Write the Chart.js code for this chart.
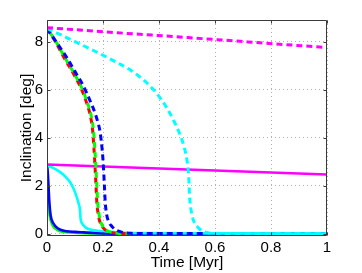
<!DOCTYPE html>
<html>
<head>
<meta charset="utf-8">
<script src="https://cdn.jsdelivr.net/npm/chart.js@4/dist/chart.umd.min.js"></script>
<style>
html,body{margin:0;padding:0;background:#fff;}
#wrap{width:362px;height:273px;position:relative;}
</style>
</head>
<body>
<div id="wrap"><canvas id="c" width="362" height="273"></canvas></div>
<script>
// ---- data (Time [Myr], Inclination [deg]) ----
const xTicks = [0, 0.2, 0.4, 0.6, 0.8, 1];
const yTicks = [0, 2, 4, 6, 8];

const magDashX = [0, 0.25, 0.5, 0.75, 1];
const magDashY = [8.58, 8.37, 8.17, 7.96, 7.75];

const magSolidX = [0, 1];
const magSolidY = [2.88, 2.46];

const cyanDashX = [0, 0.05, 0.1, 0.15, 0.2, 0.25, 0.3, 0.35, 0.38, 0.4, 0.43, 0.455, 0.475, 0.49, 0.5, 0.506, 0.509, 0.513, 0.518, 0.528, 0.54, 0.552, 0.57, 0.6, 1];
const cyanDashY = [8.55, 8.28, 8.0, 7.72, 7.43, 7.13, 6.8, 6.35, 6.0, 5.72, 5.2, 4.65, 4.12, 3.6, 3.05, 2.4, 1.6, 1.1, 0.75, 0.42, 0.25, 0.13, 0.05, 0.01, 0];

const redDashX = [0, 0.03, 0.06, 0.09, 0.12, 0.14, 0.155, 0.163, 0.168, 0.171, 0.175, 0.178, 0.183, 0.19, 0.2, 0.215, 0.24, 0.27, 0.3];
const redDashY = [8.55, 8.0, 7.35, 6.75, 6.1, 5.5, 4.9, 4.3, 3.5, 2.9, 2.0, 1.3, 0.8, 0.45, 0.25, 0.1, 0.03, 0, 0];

const greenDashX = [0, 0.032, 0.063, 0.093, 0.123, 0.143, 0.158, 0.166, 0.171, 0.174, 0.178, 0.181, 0.186, 0.193, 0.203, 0.218, 0.243, 0.273, 0.3];
const greenDashY = [8.55, 8.0, 7.35, 6.75, 6.1, 5.5, 4.9, 4.3, 3.5, 2.9, 2.0, 1.3, 0.8, 0.45, 0.25, 0.1, 0.03, 0, 0];

const blueDashX = [0, 0.035, 0.07, 0.1, 0.13, 0.155, 0.175, 0.19, 0.197, 0.201, 0.205, 0.208, 0.213, 0.22, 0.232, 0.25, 0.27, 0.3, 0.35, 0.56];
const blueDashY = [8.55, 7.95, 7.35, 6.75, 6.15, 5.5, 4.9, 4.2, 3.5, 2.9, 2.0, 1.3, 0.8, 0.5, 0.3, 0.13, 0.05, 0.01, 0, 0];

const cyanSolidX = [0, 0.02, 0.046, 0.065, 0.082, 0.095, 0.106, 0.113, 0.118, 0.12, 0.124, 0.13, 0.14, 0.154, 0.18, 0.213, 0.26, 0.32, 1];
const cyanSolidY = [2.85, 2.75, 2.57, 2.38, 2.15, 1.87, 1.53, 1.25, 0.97, 0.62, 0.45, 0.35, 0.24, 0.17, 0.12, 0.09, 0.05, 0.02, 0.0];

const blueSolidX = [0, 0.003, 0.005, 0.008, 0.013, 0.023, 0.04, 0.07, 0.1, 0.13, 0.18, 0.25, 1];
const blueSolidY = [2.85, 2.5, 2.08, 1.39, 0.76, 0.42, 0.21, 0.1, 0.07, 0.05, 0.02, 0.0, 0];

const greenSolidX = [0, 0.002, 0.004, 0.007, 0.012, 0.022, 0.04, 0.08, 0.15, 0.3];
const greenSolidY = [2.85, 2.3, 1.6, 1.0, 0.6, 0.3, 0.13, 0.05, 0.01, 0];

function pts(xs, ys) { return xs.map((x, i) => ({x: x, y: ys[i]})); }

const DASH = [6, 4];
function ds(xs, ys, color, dashed, order, dashOffset) {
  return {
    data: pts(xs, ys),
    borderColor: color,
    backgroundColor: color,
    borderWidth: dashed ? 3 : 2.6,
    borderDash: dashed ? DASH : [],
    borderDashOffset: dashOffset || 0,
    pointRadius: 0,
    cubicInterpolationMode: 'monotone',
    fill: false,
    order: order,
    borderCapStyle: 'butt',
    borderJoinStyle: 'round'
  };
}

const datasets = [
  ds(magDashX, magDashY, '#ff00ff', true, 1),
  ds(cyanDashX, cyanDashY, '#00ffff', true, 2),
  ds(blueDashX, blueDashY, '#0000ff', true, 3),
  ds(greenDashX, greenDashY, '#00ff00', true, 4, 5),
  ds(redDashX, redDashY, '#ff0000', true, 5),
  ds(magSolidX, magSolidY, '#ff00ff', false, 6),
  ds(cyanSolidX, cyanSolidY, '#00ffff', false, 7),
  ds(blueSolidX, blueSolidY, '#0000ff', false, 8),
  ds(greenSolidX, greenSolidY, '#00ff00', false, 9)
];

const FONT = "'Liberation Sans', Arial, Helvetica, sans-serif";

const boxPlugin = {
  id: 'box',
  afterDraw(chart) {
    const {ctx, chartArea: a, scales} = chart;
    ctx.save();
    ctx.strokeStyle = '#3a3a3a';
    ctx.lineWidth = 1;
    const L = Math.round(a.left) + 0.5, R = Math.round(a.right) - 0.5;
    const T = Math.round(a.top) + 0.5, B = Math.round(a.bottom) - 0.5;
    ctx.beginPath();
    ctx.rect(L, T, R - L, B - T);
    ctx.stroke();
    const tl = 3;
    ctx.beginPath();
    scales.x.ticks.forEach(t => {
      const px = Math.round(scales.x.getPixelForValue(t.value)) + 0.5;
      ctx.moveTo(px, B); ctx.lineTo(px, B - tl);
      ctx.moveTo(px, T); ctx.lineTo(px, T + tl);
    });
    scales.y.ticks.forEach(t => {
      const py = Math.round(scales.y.getPixelForValue(t.value)) + 0.5;
      ctx.moveTo(L, py); ctx.lineTo(L + tl, py);
      ctx.moveTo(R, py); ctx.lineTo(R - tl, py);
    });
    ctx.stroke();
    ctx.restore();
  }
};

new Chart(document.getElementById('c'), {
  type: 'line',
  data: { datasets: datasets },
  options: {
    responsive: false,
    animation: false,
    devicePixelRatio: 1,
    layout: { padding: { top: 20, right: 35, left: 0, bottom: 0 } },
    plugins: { legend: { display: false }, tooltip: { enabled: false } },
    scales: {
      x: {
        type: 'linear',
        min: 0, max: 1,
        afterFit(s) { s.height = 37; },
        afterBuildTicks(s) { s.ticks = xTicks.map(v => ({value: v})); },
        ticks: {
          font: { family: FONT, size: 15 },
          color: '#000',
          padding: 3,
          maxRotation: 0,
          autoSkip: false,
          callback: v => String(Number(v.toFixed(1)))
        },
        grid: { color: 'rgba(0,0,0,0.3)', lineWidth: 1, drawTicks: false },
        border: { display: false, dash: [1, 3] },
        title: { display: true, text: 'Time [Myr]', font: { family: FONT, size: 15.5 }, color: '#000', padding: { top: 0, bottom: 1 } }
      },
      y: {
        type: 'linear',
        min: -0.1, max: 8.9,
        afterFit(s) { s.width = 47; },
        afterBuildTicks(s) { s.ticks = yTicks.map(v => ({value: v})); },
        ticks: {
          font: { family: FONT, size: 15 },
          color: '#000',
          padding: 4,
          autoSkip: false,
          callback: v => String(v)
        },
        grid: { color: 'rgba(0,0,0,0.3)', lineWidth: 1, drawTicks: false },
        border: { display: false, dash: [1, 3] },
        title: { display: true, text: 'Inclination [deg]', font: { family: FONT, size: 15.5 }, color: '#000', padding: { top: 17, bottom: 0 } }
      }
    }
  },
  plugins: [boxPlugin]
});
</script>
</body>
</html>
